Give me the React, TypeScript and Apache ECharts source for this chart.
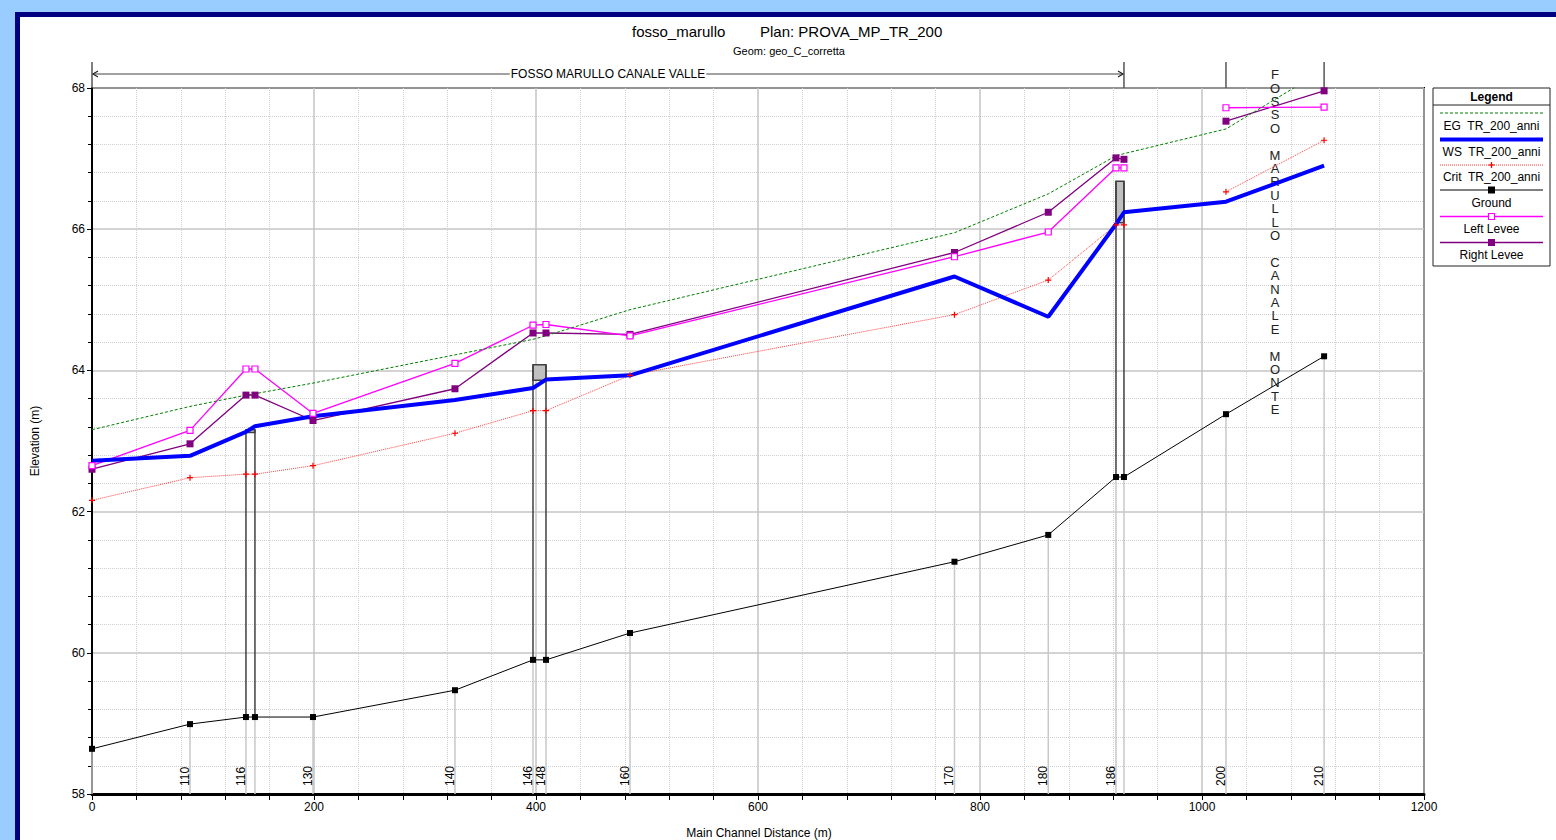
import React, { useEffect, useRef } from "react";
import * as echarts from "echarts";

// Profile stations (main channel distance, m) and their river-station names
const distances = [0, 88.3, 138.7, 146.8, 199.1, 327, 397.3, 409, 484.7, 777, 861.5, 922.5, 929.7, 1021.6, 1110];
const stationNames = ["", "110", "116", "", "130", "140", "146", "148", "160", "170", "180", "186", "", "200", "210"];

// Elevations (m) at each station
const groundElev = [58.64, 58.99, 59.09, 59.09, 59.09, 59.47, 59.9, 59.9, 60.28, 61.29, 61.67, 62.49, 62.49, 63.38, 64.2];
const wsElev = [62.72, 62.79, 63.13, 63.21, 63.35, 63.58, 63.75, 63.87, 63.93, 65.33, 64.76, 66.07, 66.24, 66.39, 66.9];
const critElev = [62.16, 62.48, 62.53, 62.53, 62.65, 63.11, 63.43, 63.43, 63.93, 64.79, 65.28, 66.06, 66.06, 66.53, 67.26];
const egElev = [63.16, 63.49, 63.65, 63.67, 63.82, 64.22, 64.44, 64.49, 64.86, 65.95, 66.5, 67.04, 67.07, 67.42, 68.26];
const leftLeveeElev = [62.65, 63.15, 64.02, 64.02, 63.39, 64.1, 64.64, 64.65, 64.49, 65.61, 65.96, 66.87, 66.87, 67.72, 67.73];
const rightLeveeElev = [62.6, 62.96, 63.65, 63.65, 63.29, 63.74, 64.53, 64.53, 64.51, 65.67, 66.24, 67.01, 66.99, 67.53, 67.96];

// First station index of the upstream reach (levees / critical depth are not joined across the junction)
const upstreamReachStart = 13;

// Bridges / culverts: extent, ground, low chord and high chord
const structFrom = [138.7, 397.3, 922.5];
const structTo = [146.8, 409, 929.7];
const structGround = [59.09, 59.9, 62.49];
const structLowChord = [63.12, 63.86, 66.09];
const structHighChord = [63.16, 64.08, 66.68];

// Reaches drawn above the plot
const reachNames = ["FOSSO MARULLO CANALE VALLE", "FOSSO MARULLO CANALE MONTE"];
const reachFrom = [0, 1021.6];
const reachTo = [929.7, 1110];

const FONT = "'Liberation Sans', Arial, sans-serif";

const PLUS_PATH = "path://M2,0H3V2H5V3H3V5H2V3H0V2H2Z";

function pairs(values: number[], breakAtJunction: boolean) {
  const out: any[] = [];
  distances.forEach((d, i) => {
    if (breakAtJunction && i === upstreamReachStart) out.push([d, "-"]);
    out.push([d, values[i]]);
  });
  return out;
}

export default function App() {
  const ref = useRef<HTMLDivElement>(null);

  useEffect(() => {
    if (!ref.current) return;
    const chart = echarts.init(ref.current, null, { renderer: "svg" });

    const stationSeries = {
      type: "custom",
      name: "stations",
      silent: true,
      clip: false,
      data: distances.map((d, i) => [d, groundElev[i]]),
      encode: { x: 0, y: 1 },
      renderItem: (params: any, api: any) => {
        const x = api.value(0);
        const g = api.value(1);
        const base = api.coord([x, 58]);
        const top = api.coord([x, g]);
        const children: any[] = [
          {
            type: "line",
            shape: { x1: base[0], y1: base[1], x2: top[0], y2: top[1] },
            style: { stroke: "#C8C8C8", lineWidth: 1.5 },
          },
        ];
        const label = stationNames[params.dataIndex];
        if (label) {
          children.push({
            type: "text",
            x: base[0] + 1,
            y: base[1] - 8,
            rotation: Math.PI / 2,
            style: {
              text: label,
              fill: "#000",
              font: `12px ${FONT}`,
              align: "left",
              verticalAlign: "bottom",
            },
          });
        }
        return { type: "group", children };
      },
    };

    const structureSeries = {
      type: "custom",
      name: "structures",
      silent: true,
      data: structFrom.map((x, i) => [x, structTo[i], structGround[i], structLowChord[i], structHighChord[i]]),
      encode: { x: [0, 1], y: [2, 4] },
      renderItem: (params: any, api: any) => {
        const a = api.coord([api.value(0), api.value(2)]);
        const b = api.coord([api.value(1), api.value(4)]);
        const low = api.coord([api.value(1), api.value(3)]);
        return {
          type: "group",
          children: [
            {
              type: "rect",
              shape: { x: a[0], y: b[1], width: b[0] - a[0], height: low[1] - b[1] },
              style: { fill: "#C0C0C0", stroke: "#404040", lineWidth: 1.5 },
            },
            {
              type: "line",
              shape: { x1: a[0], y1: a[1], x2: a[0], y2: b[1] },
              style: { stroke: "#404040", lineWidth: 1.5 },
            },
            {
              type: "line",
              shape: { x1: b[0], y1: a[1], x2: b[0], y2: b[1] },
              style: { stroke: "#404040", lineWidth: 1.5 },
            },
          ],
        };
      },
    };

    const reachSeries = {
      type: "custom",
      name: "reaches",
      silent: true,
      clip: false,
      data: reachFrom.map((x, i) => [x, reachTo[i], 68]),
      encode: { x: [0, 1], y: 2 },
      renderItem: (params: any, api: any) => {
        const p1 = api.coord([api.value(0), api.value(2)]);
        const p2 = api.coord([api.value(1), api.value(2)]);
        const name = reachNames[params.dataIndex];
        const yTop = p1[1] - 26;
        const yArrow = p1[1] - 14;
        const children: any[] = [
          { type: "line", shape: { x1: p1[0], y1: yTop, x2: p1[0], y2: p1[1] }, style: { stroke: "#555", lineWidth: 1.5 } },
          { type: "line", shape: { x1: p2[0], y1: yTop, x2: p2[0], y2: p1[1] }, style: { stroke: "#555", lineWidth: 1.5 } },
        ];
        const span = p2[0] - p1[0];
        if (span > 300) {
          children.push(
            { type: "line", shape: { x1: p1[0] + 1, y1: yArrow, x2: p2[0] - 1, y2: yArrow }, style: { stroke: "#444", lineWidth: 1 } },
            {
              type: "polyline",
              shape: { points: [[p1[0] + 6, yArrow - 3], [p1[0] + 1, yArrow], [p1[0] + 6, yArrow + 3]] },
              style: { stroke: "#222", lineWidth: 1.2, fill: "none" },
            },
            {
              type: "polyline",
              shape: { points: [[p2[0] - 6, yArrow - 3], [p2[0] - 1, yArrow], [p2[0] - 6, yArrow + 3]] },
              style: { stroke: "#222", lineWidth: 1.2, fill: "none" },
            },
            {
              type: "text",
              x: (p1[0] + p2[0]) / 2,
              y: yArrow,
              style: {
                text: name,
                fill: "#000",
                font: `12px ${FONT}`,
                align: "center",
                verticalAlign: "middle",
                backgroundColor: "#fff",
                padding: [0, 1],
              },
            }
          );
        } else {
          children.push({
            type: "text",
            x: (p1[0] + p2[0]) / 2,
            y: yTop + 6,
            z2: 10,
            style: {
              text: name.split("").join("\n"),
              fill: "#222",
              font: `13px ${FONT}`,
              lineHeight: 13.4,
              align: "center",
              verticalAlign: "top",
            },
          });
        }
        return { type: "group", children };
      },
    };

    const line = (
      name: string,
      values: number[],
      color: string,
      width: number,
      type: any,
      symbol: string,
      symbolSize: number,
      itemStyle: any,
      breakAtJunction: boolean
    ) => ({
      type: "line",
      name,
      data: pairs(values, breakAtJunction),
      connectNulls: false,
      showSymbol: symbol !== "none",
      symbol,
      symbolSize,
      lineStyle: { color, width, type },
      itemStyle,
      emphasis: { disabled: true },
      silent: true,
      clip: true,
    });

    // Legend samples, drawn as small marks with the label under each one
    const legendX1 = 1440;
    const legendX2 = 1543;
    const legendCx = 1491.5;
    const legendItems: any[] = [
      { type: "rect", shape: { x: 1433, y: 88, width: 117, height: 178 }, style: { fill: "#fff", stroke: "#222", lineWidth: 1 } },
      { type: "line", shape: { x1: 1433, y1: 105, x2: 1550, y2: 105 }, style: { stroke: "#222", lineWidth: 1 } },
      { type: "text", x: legendCx, y: 96.5, style: { text: "Legend", font: `bold 12px ${FONT}`, fill: "#000", align: "center", verticalAlign: "middle" } },
    ];
    const legendRows = [
      { label: "EG  TR_200_anni", sy: 113, ly: 125.5, stroke: "#008000", width: 1, dash: [3, 2], marker: "" },
      { label: "WS  TR_200_anni", sy: 139.5, ly: 151.5, stroke: "#0000FF", width: 4, dash: null, marker: "" },
      { label: "Crit  TR_200_anni", sy: 165, ly: 177, stroke: "#FF4040", width: 1, dash: [1, 1], marker: "plus" },
      { label: "Ground", sy: 190, ly: 203, stroke: "#000", width: 1, dash: null, marker: "fill:#000" },
      { label: "Left Levee", sy: 216.5, ly: 228.5, stroke: "#FF00FF", width: 1.5, dash: null, marker: "open:#FF00FF" },
      { label: "Right Levee", sy: 242.5, ly: 254.5, stroke: "#800080", width: 1.5, dash: null, marker: "fill:#800080" },
    ];
    legendRows.forEach((r) => {
      legendItems.push({
        type: "line",
        shape: { x1: legendX1, y1: r.sy, x2: legendX2, y2: r.sy },
        style: { stroke: r.stroke, lineWidth: r.width, lineDash: r.dash || undefined },
      });
      if (r.marker === "plus") {
        legendItems.push(
          { type: "line", shape: { x1: legendCx - 3, y1: r.sy, x2: legendCx + 3, y2: r.sy }, style: { stroke: "#FF0000", lineWidth: 1.2 } },
          { type: "line", shape: { x1: legendCx, y1: r.sy - 3, x2: legendCx, y2: r.sy + 3 }, style: { stroke: "#FF0000", lineWidth: 1.2 } }
        );
      } else if (r.marker.startsWith("fill:")) {
        legendItems.push({
          type: "rect",
          shape: { x: legendCx - 3.5, y: r.sy - 3.5, width: 7, height: 7 },
          style: { fill: r.marker.slice(5) },
        });
      } else if (r.marker.startsWith("open:")) {
        legendItems.push({
          type: "rect",
          shape: { x: legendCx - 3, y: r.sy - 3, width: 6, height: 6 },
          style: { fill: "#fff", stroke: r.marker.slice(5), lineWidth: 1.2 },
        });
      }
      legendItems.push({
        type: "text",
        x: legendCx,
        y: r.ly,
        style: { text: r.label, font: `12px ${FONT}`, fill: "#000", align: "center", verticalAlign: "middle" },
      });
    });

    const plainNumber = (v: number) => String(v);

    const option: any = {
      animation: false,
      backgroundColor: "transparent",
      textStyle: { fontFamily: FONT },
      grid: {
        left: 92,
        top: 88,
        width: 1332,
        height: 706,
        show: true,
        backgroundColor: "transparent",
        borderColor: "#000",
        borderWidth: 2,
        outerBoundsMode: "none",
        containLabel: false,
      },
      xAxis: {
        type: "value",
        min: 0,
        max: 1200,
        interval: 200,
        axisLine: { show: true, onZero: false, lineStyle: { color: "#000", width: 3 } },
        axisTick: { show: true, length: 6, lineStyle: { color: "#000", width: 1 } },
        minorTick: { show: true, splitNumber: 5, length: 6, lineStyle: { color: "#000", width: 1 } },
        axisLabel: {
          show: true,
          color: "#000",
          fontSize: 12,
          fontFamily: FONT,
          margin: 7,
          hideOverlap: false,
          showMinLabel: true,
          showMaxLabel: true,
          formatter: plainNumber,
        },
        splitLine: { show: true, lineStyle: { color: "#C4C4C4", width: 1.5, type: "solid" } },
        minorSplitLine: { show: true, lineStyle: { color: "#D0D0D0", width: 1, type: [1, 1] } },
      },
      yAxis: {
        type: "value",
        min: 58,
        max: 68,
        interval: 2,
        axisLine: { show: true, onZero: false, lineStyle: { color: "#000", width: 2 } },
        axisTick: { show: true, length: 5, lineStyle: { color: "#000", width: 1 } },
        minorTick: { show: true, splitNumber: 5, length: 4, lineStyle: { color: "#000", width: 1 } },
        axisLabel: {
          show: true,
          color: "#000",
          fontSize: 12,
          fontFamily: FONT,
          margin: 7,
          hideOverlap: false,
          showMinLabel: true,
          showMaxLabel: true,
          formatter: plainNumber,
        },
        splitLine: { show: true, lineStyle: { color: "#C4C4C4", width: 1.5, type: "solid" } },
        minorSplitLine: { show: true, lineStyle: { color: "#D0D0D0", width: 1, type: [1, 1] } },
      },
      series: [
        stationSeries,
        structureSeries,
        line("Ground", groundElev, "#000", 1, "solid", "rect", 6, { color: "#000" }, false),
        line("Right Levee", rightLeveeElev, "#800080", 1.3, "solid", "rect", 7, { color: "#800080" }, true),
        line("Left Levee", leftLeveeElev, "#FF00FF", 1.3, "solid", "rect", 6, { color: "#fff", borderColor: "#FF00FF", borderWidth: 1.2 }, true),
        line("EG  TR_200_anni", egElev, "#008000", 1, [3, 2], "none", 0, { color: "#008000" }, false),
        line("Crit  TR_200_anni", critElev, "#FF4040", 1, [1, 1], PLUS_PATH, 6, { color: "#FF0000" }, true),
        line("WS  TR_200_anni", wsElev, "#0000FF", 4, "solid", "none", 0, { color: "#0000FF" }, false),
        reachSeries,
      ],
      graphic: [
        { type: "text", x: 632, y: 31, style: { text: "fosso_marullo", font: `15px ${FONT}`, fill: "#000", align: "left", verticalAlign: "middle" } },
        { type: "text", x: 760, y: 31, style: { text: "Plan: PROVA_MP_TR_200", font: `15px ${FONT}`, fill: "#000", align: "left", verticalAlign: "middle" } },
        { type: "text", x: 789, y: 51, style: { text: "Geom: geo_C_corretta", font: `11px ${FONT}`, fill: "#000", align: "center", verticalAlign: "middle" } },
        { type: "text", x: 35, y: 441, rotation: Math.PI / 2, style: { text: "Elevation (m)", font: `12px ${FONT}`, fill: "#000", align: "center", verticalAlign: "middle" } },
        { type: "text", x: 759, y: 833, style: { text: "Main Channel Distance (m)", font: `12px ${FONT}`, fill: "#000", align: "center", verticalAlign: "middle" } },
        ...legendItems,
      ],
    };

    chart.setOption(option);
    return () => chart.dispose();
  }, []);

  return (
    <div style={{ position: "fixed", left: 0, top: 0, width: 1556, height: 840, background: "#99CCFF", overflow: "hidden" }}>
      <div
        style={{
          position: "absolute",
          left: 15,
          top: 12,
          width: 1600,
          height: 900,
          background: "#fff",
          borderLeft: "5px solid #000080",
          borderTop: "5px solid #000080",
        }}
      />
      <div ref={ref} style={{ position: "absolute", left: 0, top: 0, width: 1556, height: 840 }} />
    </div>
  );
}
